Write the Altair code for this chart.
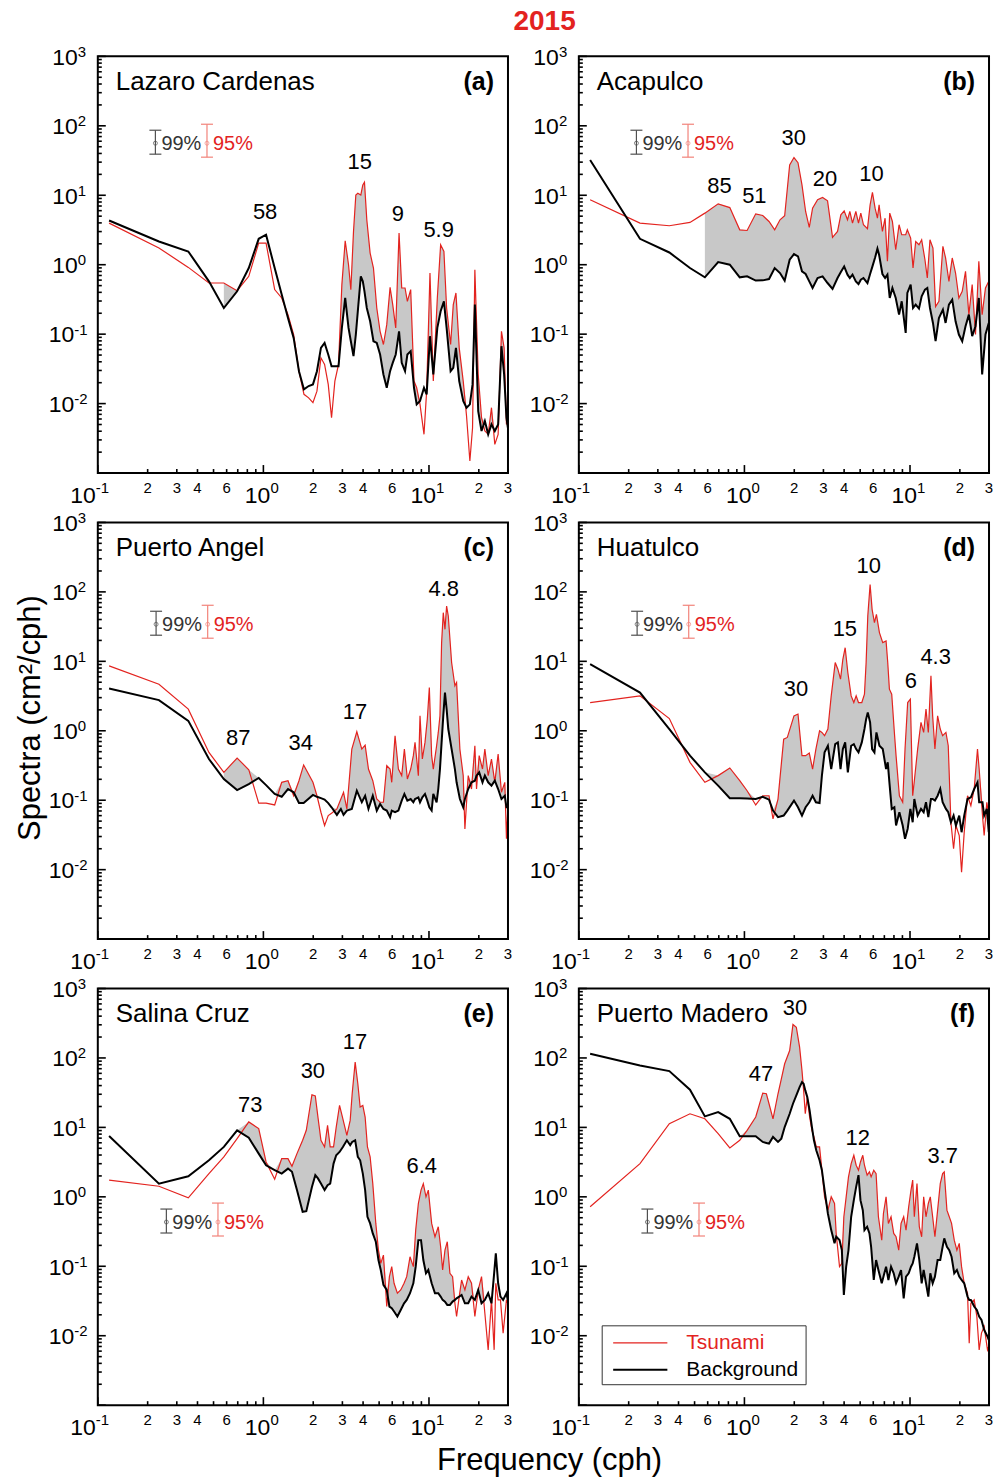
import altair as alt
import pandas as pd

# ---------------- (a) Lazaro Cardenas ----------------
a_freq = [0.117, 0.234, 0.352, 0.469, 0.577, 0.694, 0.816, 0.937, 1.038, 1.170,
          1.290, 1.408, 1.523, 1.640, 1.758, 1.876, 1.992, 2.106, 2.226, 2.342,
          2.464, 2.580, 2.702, 2.843, 2.978, 3.119, 3.267, 3.374, 3.501, 3.616,
          3.718, 3.876, 3.985, 4.078, 4.212, 4.412, 4.621, 4.839, 5.068, 5.308,
          5.559, 5.823, 6.041, 6.298, 6.596, 6.845, 7.168, 7.405, 7.755, 8.121,
          8.428, 8.828, 9.331, 9.681, 10.14, 10.62, 11.23, 11.76, 12.31, 12.78,
          13.51, 14.02, 14.55, 15.23, 16.10, 16.86, 17.66, 18.33, 18.93, 19.83,
          20.77, 21.75, 22.78, 23.85, 24.98, 26.16, 27.40, 28.43, 29.37, 29.95]
a_tsunami = [3.97, 1.74, 0.915, 0.545, 0.545, 0.423, 0.680, 2.05, 2.05, 0.438,
             0.332, 0.191, 0.0987, 0.0293, 0.0136, 0.0121, 0.0103, 0.0151, 0.0456, 0.0366,
             0.0189, 0.00626, 0.0211, 0.0366, 0.516, 2.21, 1.0, 0.438, 3.01, 10.1,
             10.7, 10.1, 14.1, 15.4, 4.43, 1.47, 0.895, 0.238, 0.110, 0.0709,
             0.137, 0.472, 0.266, 0.123, 2.85, 0.462, 0.462, 0.297, 0.438, 0.0211,
             0.0169, 0.00975, 0.00361, 0.0151, 0.759, 0.0211, 0.332, 1.94, 1.55, 0.238,
             0.0709, 0.266, 0.392, 0.0635, 0.0211, 0.00662, 0.00149, 0.0045, 0.848, 0.0263,
             0.00626, 0.00403, 0.00361, 0.00873, 0.00259, 0.00361, 0.110, 0.0635, 0.00502, 0.00626]
a_background = [4.33, 2.16, 1.55, 0.576, 0.238, 0.414, 0.895, 2.36, 2.70, 0.895,
                0.371, 0.171, 0.0884, 0.0293, 0.0160, 0.0179, 0.0189, 0.0293, 0.0635, 0.0749,
                0.0509, 0.0346, 0.0346, 0.0346, 0.123, 0.332, 0.123, 0.0791, 0.0482, 0.0987,
                0.214, 0.680, 0.576, 0.414, 0.238, 0.153, 0.0791, 0.0749, 0.0509, 0.0263,
                0.0169, 0.0293, 0.0386, 0.0509, 0.110, 0.0386, 0.0293, 0.0509, 0.0569, 0.0169,
                0.00975, 0.0109, 0.0169, 0.0136, 0.0934, 0.0263, 0.123, 0.214, 0.297, 0.123,
                0.0293, 0.0328, 0.0635, 0.0211, 0.0109, 0.00873, 0.00975, 0.0189, 0.266, 0.00781,
                0.00403, 0.00561, 0.00361, 0.00502, 0.00403, 0.00502, 0.0671, 0.0263, 0.00626, 0.0045]
a_peak_text = ["58", "15", "9", "5.9"]
a_peak_freq = [1.024, 3.82, 6.48, 11.44]
a_peak_spec = [5.70, 30.5, 5.33, 3.18]

# ---------------- (b) Acapulco ----------------
b_freq = [0.117, 0.234, 0.352, 0.469, 0.577, 0.694, 0.816, 0.937, 1.038, 1.170,
          1.290, 1.408, 1.523, 1.640, 1.750, 1.876, 1.992, 2.106, 2.226, 2.342,
          2.464, 2.580, 2.766, 2.965, 3.177, 3.405, 3.650, 3.822, 4.003, 4.192,
          4.331, 4.495, 4.708, 4.885, 5.045, 5.235, 5.534, 5.741, 5.931, 6.155,
          6.357, 6.506, 6.813, 7.071, 7.304, 7.544, 7.828, 8.199, 8.587, 8.911,
          9.417, 9.637, 10.09, 10.43, 10.82, 11.33, 11.76, 12.31, 12.72, 13.20,
          13.76, 14.27, 14.95, 15.80, 16.40, 17.18, 17.99, 18.84, 19.73, 20.67,
          21.64, 22.67, 23.74, 24.86, 26.04, 27.27, 28.56, 29.9]
b_tsunami = [8.6, 3.97, 3.64, 4.06, 5.53, 7.52, 6.65, 3.18, 3.11, 5.40,
             5.12, 4.19, 3.18, 4.43, 5.06, 27.3, 34.9, 29.5, 14.1, 5.84,
             3.44, 6.52, 8.6, 9.28, 8.31, 2.47, 3.01, 5.23, 5.97, 4.43,
             5.84, 3.97, 5.84, 3.97, 5.53, 3.76, 3.29, 7.28, 11.0, 6.52,
             4.68, 7.28, 3.01, 4.68, 1.12, 5.53, 4.19, 1.64, 3.76, 2.70,
             2.70, 3.18, 2.42, 0.895, 2.16, 1.94, 2.29, 1.18, 0.643, 2.29,
             1.74, 0.25, 0.297, 1.84, 1.25, 0.576, 1.25, 0.759, 0.332, 0.414,
             0.802, 0.191, 0.516, 0.0987, 1.12, 0.191, 0.462, 0.576]
b_background = [32.1, 2.36, 1.50, 0.895, 0.658, 1.09, 1.0, 0.658, 0.68, 0.59,
                0.595, 0.622, 0.895, 0.759, 0.59, 1.18, 1.42, 1.32, 0.802, 0.734,
                0.576, 0.462, 0.643, 0.68, 0.545, 0.447, 0.643, 0.785, 0.946, 0.719,
                0.643, 0.719, 0.576, 0.527, 0.609, 0.643, 0.545, 0.734, 0.946, 1.27,
                1.70, 1.39, 0.734, 0.643, 0.719, 0.332, 0.462, 0.332, 0.191, 0.297,
                0.104, 0.392, 0.516, 0.238, 0.266, 0.233, 0.351, 0.438, 0.462, 0.238,
                0.145, 0.0791, 0.171, 0.226, 0.145, 0.266, 0.314, 0.153, 0.0987, 0.0791,
                0.13, 0.191, 0.0934, 0.13, 0.332, 0.0263, 0.0987, 0.145]
b_peak_text = ["85", "51", "30", "20", "10"]
b_peak_freq = [0.707, 1.148, 1.985, 3.063, 5.855]
b_peak_spec = [13.8, 9.9, 67.5, 17.2, 20.0]

# ---------------- (c) Puerto Angel ----------------
c_freq = [0.117, 0.234, 0.352, 0.469, 0.577, 0.694, 0.816, 0.937, 1.038, 1.170,
          1.290, 1.408, 1.523, 1.640, 1.750, 1.992, 2.106, 2.226, 2.342, 2.464,
          2.580, 2.779, 2.937, 3.048, 3.192, 3.420, 3.667, 3.930, 4.116, 4.311,
          4.578, 4.839, 5.068, 5.308, 5.559, 5.823, 5.958, 6.240, 6.536, 6.845,
          7.104, 7.405, 7.755, 8.046, 8.237, 8.627, 8.828, 9.119, 9.461, 9.772,
          10.05, 10.38, 10.62, 11.12, 11.38, 11.65, 11.92, 12.20, 12.49, 12.78,
          13.08, 13.70, 14.34, 14.68, 15.37, 16.10, 16.48, 17.26, 18.07, 18.93,
          19.37, 20.10, 21.05, 21.75, 22.78, 23.85, 24.98, 26.16, 27.40, 28.70,
          29.37, 29.9]
c_tsunami = [8.6, 4.68, 2.05, 0.488, 0.252, 0.405, 0.275, 0.091, 0.091, 0.0855,
             0.181, 0.191, 0.116, 0.191, 0.322, 0.181, 0.116, 0.0671, 0.0432, 0.0601,
             0.0648, 0.0749, 0.104, 0.130, 0.0749, 0.545, 0.967, 0.545, 0.622, 0.281,
             0.191, 0.104, 0.0934, 0.0934, 0.314, 0.281, 0.181, 0.848, 0.281, 0.226,
             0.545, 0.202, 0.281, 0.438, 0.68, 0.226, 1.64, 0.392, 0.68, 1.47,
             4.19, 0.438, 0.281, 0.609, 0.946, 1.64, 18.6, 50.2, 28.9, 62.5,
             45.0, 9.6, 4.43, 4.95, 0.545, 0.226, 0.0386, 0.226, 0.145, 0.609,
             0.145, 0.438, 0.281, 0.545, 0.226, 0.392, 0.181, 0.462, 0.130, 0.181,
             0.0278, 0.0709]
c_background = [4.06, 2.76, 1.39, 0.392, 0.202, 0.140, 0.171, 0.209, 0.165, 0.123,
                0.112, 0.145, 0.130, 0.091, 0.091, 0.119, 0.112, 0.107, 0.102, 0.091,
                0.0791, 0.0615, 0.0749, 0.0615, 0.0709, 0.0749, 0.137, 0.0934, 0.116, 0.0749,
                0.116, 0.0709, 0.0884, 0.0749, 0.0709, 0.0569, 0.0709, 0.0671, 0.0709, 0.0987,
                0.123, 0.0987, 0.104, 0.0934, 0.104, 0.110, 0.0934, 0.110, 0.123, 0.0987,
                0.0791, 0.0709, 0.123, 0.0934, 0.145, 0.281, 0.68, 1.64, 3.55, 2.05,
                1.06, 0.545, 0.281, 0.181, 0.104, 0.0791, 0.104, 0.145, 0.181, 0.191,
                0.226, 0.252, 0.181, 0.226, 0.181, 0.162, 0.191, 0.145, 0.104, 0.116,
                0.0791, 0.0791]
c_peak_text = ["87", "34", "17", "4.8"]
c_peak_freq = [0.704, 1.68, 3.57, 12.27]
c_peak_spec = [0.79, 0.672, 1.87, 110.0]

# ---------------- (d) Huatulco ----------------
d_freq = [0.117, 0.234, 0.352, 0.469, 0.577, 0.694, 0.816, 0.937, 1.038, 1.170,
          1.290, 1.408, 1.488, 1.595, 1.726, 1.816, 1.992, 2.106, 2.226, 2.342,
          2.464, 2.580, 2.702, 2.843, 2.937, 3.048, 3.192, 3.343, 3.534, 3.667,
          3.805, 3.930, 4.059, 4.212, 4.412, 4.578, 4.729, 4.885, 5.115, 5.308,
          5.432, 5.559, 5.741, 5.903, 6.098, 6.269, 6.536, 6.845, 7.168, 7.337,
          7.508, 7.755, 8.046, 8.237, 8.627, 9.034, 9.331, 9.681, 10.05, 10.38,
          10.62, 11.12, 11.65, 12.09, 12.49, 12.90, 13.38, 13.70, 14.14, 14.68,
          15.23, 15.74, 16.48, 17.02, 17.66, 18.33, 18.93, 19.83, 20.48, 21.25,
          22.25, 23.31, 24.41, 25.56, 26.16, 27.40, 28.04, 29.10, 29.9]
d_tsunami = [2.55, 3.18, 1.50, 0.351, 0.181, 0.226, 0.291, 0.191, 0.137, 0.0855,
             0.116, 0.116, 0.054, 0.104, 0.759, 0.802, 1.64, 1.74, 0.438, 0.438,
             0.477, 0.281, 0.545, 1.0, 0.946, 0.848, 1.06, 3.18, 9.6, 7.7,
             5.53, 10.7, 15.7, 6.9, 3.18, 2.55, 3.18, 2.55, 2.55, 3.36,
             9.6, 44.9, 128.0, 56.0, 36.0, 47.4, 25.9, 18.6, 19.6, 9.6,
             3.97, 3.36, 0.946, 0.438, 0.116, 0.0934, 0.545, 2.55, 2.85, 0.116,
             0.191, 0.545, 1.32, 0.946, 2.05, 0.946, 6.17, 1.64, 0.545, 1.64,
             1.06, 0.848, 0.946, 0.609, 0.0482, 0.020, 0.0432, 0.031, 0.00922, 0.0346,
             0.116, 0.0836, 0.145, 0.545, 0.281, 0.0601, 0.031, 0.0934, 0.0601]
d_background = [9.08, 3.55, 1.06, 0.438, 0.252, 0.162, 0.107, 0.107, 0.106, 0.104,
                0.112, 0.102, 0.0709, 0.0569, 0.0601, 0.0709, 0.0987, 0.0791, 0.0601, 0.0791,
                0.0934, 0.116, 0.0934, 0.091, 0.226, 0.488, 0.609, 0.281, 0.643, 0.68,
                0.281, 0.545, 0.68, 0.252, 0.609, 0.643, 0.545, 0.488, 0.68, 1.06,
                1.47, 1.84, 1.32, 0.545, 0.488, 0.946, 0.609, 0.545, 0.281, 0.351,
                0.181, 0.0749, 0.0791, 0.0432, 0.0671, 0.0432, 0.0278, 0.0386, 0.0749, 0.0482,
                0.104, 0.0601, 0.0749, 0.0671, 0.0934, 0.0569, 0.104, 0.104, 0.0987, 0.116,
                0.145, 0.0934, 0.0749, 0.0671, 0.0482, 0.0601, 0.0432, 0.0601, 0.0346, 0.0601,
                0.104, 0.110, 0.145, 0.181, 0.0934, 0.0934, 0.0601, 0.0749, 0.0346]
d_peak_text = ["30", "15", "10", "6", "4.3"]
d_peak_freq = [2.05, 4.04, 5.64, 10.1, 14.28]
d_peak_spec = [4.01, 29.2, 235.0, 5.23, 11.6]

# ---------------- (e) Salina Cruz ----------------
e_freq = [0.117, 0.234, 0.352, 0.469, 0.577, 0.694, 0.816, 0.937, 1.038, 1.170,
          1.290, 1.408, 1.488, 1.595, 1.726, 1.816, 1.964, 2.058, 2.135, 2.226,
          2.342, 2.441, 2.532, 2.653, 2.753, 2.884, 3.020, 3.192, 3.343, 3.437,
          3.583, 3.718, 3.840, 3.985, 4.116, 4.251, 4.412, 4.578, 4.774, 4.953,
          5.115, 5.308, 5.559, 5.768, 5.958, 6.155, 6.444, 6.750, 7.071, 7.337,
          7.682, 8.046, 8.314, 8.627, 8.952, 9.245, 9.593, 9.908, 10.38, 10.87,
          11.38, 11.76, 12.09, 12.49, 12.90, 13.38, 13.89, 14.34, 14.68, 15.23,
          15.74, 16.48, 17.26, 18.07, 18.93, 19.83, 20.77, 21.75, 22.78, 23.85,
          24.75, 25.33, 26.16, 27.02, 28.04, 29.37, 29.9]
e_tsunami = [1.74, 1.42, 0.967, 2.16, 3.76, 6.89, 12.0, 9.6, 3.18, 1.79,
             3.55, 3.55, 2.76, 4.19, 6.52, 9.08, 29.5, 28.3, 14.1, 6.52,
             5.23, 10.7, 5.23, 5.23, 10.1, 20.7, 13.3, 7.7, 12.6, 30.5,
             87.1, 42.5, 19.6, 20.7, 14.1, 5.23, 3.76, 1.55, 0.414, 0.171,
             0.110, 0.145, 0.0263, 0.0709, 0.0987, 0.0569, 0.0409, 0.0456, 0.0569, 0.0709,
             0.137, 0.0987, 0.332, 0.802, 1.25, 1.55, 1.0, 1.25, 0.414, 0.266,
             0.371, 0.191, 0.0884, 0.171, 0.226, 0.0791, 0.0709, 0.0293, 0.0189, 0.0366,
             0.0635, 0.0456, 0.0709, 0.0569, 0.0189, 0.0456, 0.0709, 0.0211, 0.00626, 0.0328,
             0.00626, 0.0569, 0.0328, 0.0328, 0.0109, 0.0328, 0.0293]
e_background = [7.52, 1.55, 1.98, 3.36, 5.23, 9.08, 7.12, 4.19, 2.85, 2.42,
                2.16, 2.55, 2.29, 1.25, 0.609, 0.622, 1.39, 2.05, 1.84, 1.55,
                1.25, 1.47, 1.55, 3.01, 3.97, 4.43, 5.23, 6.52, 5.53, 6.17,
                6.52, 3.76, 3.36, 2.16, 1.25, 0.516, 0.414, 0.297, 0.226, 0.123,
                0.0884, 0.054, 0.0456, 0.0263, 0.0249, 0.0223, 0.0189, 0.0235, 0.0293, 0.0328,
                0.0409, 0.0569, 0.0987, 0.238, 0.238, 0.123, 0.0791, 0.0884, 0.0569, 0.0409,
                0.0409, 0.0366, 0.0328, 0.031, 0.0278, 0.0278, 0.031, 0.0328, 0.0346, 0.0366,
                0.0386, 0.0293, 0.0293, 0.0366, 0.0328, 0.0456, 0.0293, 0.0328, 0.0409, 0.0293,
                0.0791, 0.153, 0.0569, 0.0366, 0.0328, 0.0409, 0.0328]
e_peak_text = ["73", "30", "17", "6.4"]
e_peak_freq = [0.832, 1.99, 3.57, 9.04]
e_peak_spec = [21.2, 65.3, 171.0, 2.81]

# ---------------- (f) Puerto Madero ----------------
f_freq = [0.117, 0.234, 0.352, 0.469, 0.577, 0.694, 0.816, 0.937, 1.038, 1.170,
          1.290, 1.357, 1.408, 1.488, 1.595, 1.671, 1.750, 1.876, 1.964, 2.058,
          2.154, 2.226, 2.278, 2.331, 2.397, 2.476, 2.557, 2.629, 2.715, 2.843,
          2.937, 3.048, 3.192, 3.343, 3.501, 3.583, 3.752, 3.876, 3.985, 4.116,
          4.251, 4.412, 4.578, 4.729, 4.885, 5.021, 5.187, 5.308, 5.508, 5.689,
          5.823, 6.041, 6.240, 6.444, 6.750, 6.910, 7.168, 7.405, 7.682, 7.972,
          8.237, 8.547, 8.828, 9.159, 9.461, 9.817, 10.14, 10.38, 10.62, 11.02,
          11.38, 11.76, 12.09, 12.49, 12.90, 13.26, 13.70, 14.14, 14.68, 15.23,
          15.74, 16.10, 16.71, 17.26, 17.82, 18.50, 19.19, 19.83, 20.48, 21.25,
          22.25, 22.78, 23.31, 24.41, 25.33, 26.16, 27.02, 28.04, 29.37, 29.9]
f_tsunami = [0.719, 3.01, 11.3, 15.7, 13.3, 8.13, 5.06, 6.52, 9.08, 14.1,
             31.2, 30.5, 21.9, 13.3, 30.5, 50.1, 82.4, 128.0, 303.0, 277.0,
             143.0, 66.1, 34.1, 15.7, 27.3, 14.1, 9.08, 7.28, 5.23, 5.23,
             2.42, 1.0, 0.643, 1.0, 0.802, 0.297, 0.0987, 0.110, 0.516, 1.0,
             1.94, 3.01, 3.97, 2.85, 2.42, 3.18, 3.97, 2.85, 2.05, 2.29,
             1.94, 2.42, 2.16, 0.516, 0.238, 0.576, 1.0, 0.414, 0.516, 0.297,
             0.266, 0.171, 0.414, 0.516, 0.332, 0.719, 1.25, 1.74, 0.516, 1.55,
             0.371, 0.266, 1.0, 0.516, 0.802, 1.0, 0.516, 0.266, 0.643, 1.55,
             2.16, 2.29, 0.643, 0.516, 0.414, 0.238, 0.171, 0.214, 0.0987, 0.0569,
             0.0409, 0.00781, 0.0293, 0.0328, 0.0189, 0.00626, 0.0109, 0.0136, 0.00626, 0.0070]
f_background = [114.6, 78.0, 64.6, 34.9, 14.4, 16.6, 13.3, 7.44, 7.44, 7.44,
                6.17, 5.97, 5.84, 7.28, 6.17, 6.89, 10.1, 15.7, 21.9, 28.9,
                38.0, 44.9, 42.5, 34.1, 27.3, 17.6, 10.1, 6.52, 4.68, 3.36,
                2.42, 1.25, 0.576, 0.332, 0.214, 0.266, 0.238, 0.171, 0.0386, 0.0987,
                0.171, 0.516, 0.895, 1.39, 2.05, 0.895, 0.643, 0.332, 0.371, 0.297,
                0.191, 0.0635, 0.123, 0.0884, 0.0569, 0.0709, 0.0987, 0.0635, 0.0987, 0.0791,
                0.0569, 0.0709, 0.0884, 0.0346, 0.0709, 0.0791, 0.0987, 0.110, 0.137, 0.214,
                0.123, 0.0569, 0.0884, 0.0569, 0.0366, 0.0791, 0.0569, 0.0709, 0.123, 0.123,
                0.191, 0.252, 0.191, 0.171, 0.137, 0.0791, 0.0884, 0.0709, 0.0635, 0.0569,
                0.0366, 0.0328, 0.0328, 0.0263, 0.0235, 0.0189, 0.0169, 0.0121, 0.00975, 0.00873]
f_peak_text = ["30", "47", "12", "3.7"]
f_peak_freq = [2.02, 1.26, 4.84, 15.74]
f_peak_spec = [528.0, 58.9, 7.08, 3.92]

station_names = ["Lazaro Cardenas", "Acapulco", "Puerto Angel", "Huatulco", "Salina Cruz", "Puerto Madero"]
panel_letters = ["(a)", "(b)", "(c)", "(d)", "(e)", "(f)"]
series_names = ["Tsunami", "Background"]
fill_from_freq = 0.47

# tick positions and tick labels
x_ticks_major = [0.1, 1, 10]
x_ticks_minor = [0.2, 0.3, 0.4, 0.5, 0.6, 0.7, 0.8, 0.9, 2, 3, 4, 5, 6, 7, 8, 9, 20, 30]
y_ticks_major = [0.001, 0.01, 0.1, 1, 10, 100, 1000]
y_ticks_minor = [m * 10.0 ** e for e in range(-3, 3) for m in range(2, 10)]
x_major_label_value = [0.1, 1, 10]
x_major_label_exp = ["-1", "0", "1"]
x_minor_label_value = [0.2, 0.3, 0.4, 0.6, 2, 3, 4, 6, 20, 30]
x_minor_label_text = ["2", "3", "4", "6", "2", "3", "4", "6", "2", "3"]
y_major_label_value = [0.01, 0.1, 1, 10, 100, 1000]
y_major_label_exp = ["-2", "-1", "0", "1", "2", "3"]

# ---------------- styling ----------------
W = 411
H = 417.5
RED = "#e3231f"
GREY_FILL = "#c8c8c8"
FONT = "Liberation Sans"

one = pd.DataFrame({"k": [0]})


def text_at(text, x, y, size, color="black", align="left", baseline="middle", weight="normal", angle=0):
    return alt.Chart(one).mark_text(
        text=text, fontSize=size, font=FONT, color=color, align=align,
        baseline=baseline, fontWeight=weight, angle=angle
    ).encode(x=alt.value(x), y=alt.value(y))


def hrule(x1, x2, y, color, width):
    return alt.Chart(one).mark_rule(color=color, strokeWidth=width).encode(
        x=alt.value(x1), x2=alt.value(x2), y=alt.value(y))


def vrule(x, y1, y2, color, width):
    return alt.Chart(one).mark_rule(color=color, strokeWidth=width).encode(
        x=alt.value(x), y=alt.value(y1), y2=alt.value(y2))


def ci_layers(gx, cy):
    rx = gx + 51.7
    g = "#505050"
    r = "#f2837a"
    dot = lambda x, c: alt.Chart(one).mark_point(shape="circle", size=16, color=c, strokeWidth=1).encode(
        x=alt.value(x), y=alt.value(cy))
    return [
        vrule(gx, cy - 13, cy + 11, g, 1.2), hrule(gx - 6, gx + 6, cy - 13, g, 1.2),
        hrule(gx - 6, gx + 6, cy + 11, g, 1.2), dot(gx, g),
        vrule(rx, cy - 19, cy + 14, r, 1.2), hrule(rx - 6, rx + 6, cy - 19, r, 1.2),
        hrule(rx - 6, rx + 6, cy + 14, r, 1.2), dot(rx, r),
        text_at("99%", gx + 6, cy + 1, 20, color="#333333"),
        text_at("95%", rx + 6, cy + 1, 20, color=RED),
    ]


def tick_label_layers(xs, ys):
    txt = dict(font=FONT, color="black", baseline="alphabetic")
    xmaj = alt.Chart(pd.DataFrame({"v": x_major_label_value, "e": x_major_label_exp}))
    xmin = alt.Chart(pd.DataFrame({"v": x_minor_label_value, "t": x_minor_label_text}))
    ymaj = alt.Chart(pd.DataFrame({"v": y_major_label_value, "e": y_major_label_exp}))
    xenc = alt.X("v:Q", scale=xs, axis=None)
    yenc = alt.Y("v:Q", scale=ys, axis=None)
    layers = []
    for cond, dx in ((alt.datum.v < 0.5, -2), (alt.datum.v > 0.5, 7)):
        layers.append(xmaj.transform_filter(cond).mark_text(text="10", fontSize=23, align="right", dx=dx, **txt)
                      .encode(x=xenc, y=alt.value(H + 29.7)))
        layers.append(xmaj.transform_filter(cond).mark_text(fontSize=15, align="left", dx=dx, **txt)
                      .encode(x=xenc, y=alt.value(H + 19.7), text="e:N"))
    layers.append(xmin.mark_text(fontSize=15, align="center", **txt)
                  .encode(x=xenc, y=alt.value(H + 20.2), text="t:N"))
    for cond, ax in ((alt.datum.v < 0.5, -23.5), (alt.datum.v > 0.5, -20)):
        layers.append(ymaj.transform_filter(cond).mark_text(text="10", fontSize=23, align="right", dy=8.3, **txt)
                      .encode(x=alt.value(ax), y=yenc))
        layers.append(ymaj.transform_filter(cond).mark_text(fontSize=15, align="left", dy=0.5, **txt)
                      .encode(x=alt.value(ax), y=yenc, text="e:N"))
    return layers


def panel(freq, tsunami, background, idx, peak_text, peak_freq, peak_spec, ci_x, ci_y, extra=()):
    xs = alt.Scale(type="log", domain=[0.1, 30], nice=False)
    ys = alt.Scale(type="log", domain=[0.001, 1000], nice=False)
    df = pd.DataFrame({"f": freq, "ts": tsunami, "bg": background})
    base = alt.Chart(df)
    fill = (base.transform_filter(alt.datum.f >= fill_from_freq)
            .transform_calculate(top="max(datum.ts, datum.bg)")
            .mark_area(color=GREY_FILL, opacity=1)
            .encode(x=alt.X("f:Q", scale=xs, axis=None),
                    y=alt.Y("bg:Q", scale=ys, axis=None),
                    y2=alt.Y2("top:Q")))
    red = base.mark_line(color=RED, strokeWidth=1.2).encode(
        x=alt.X("f:Q", scale=xs, axis=None), y=alt.Y("ts:Q", scale=ys, axis=None))
    black = base.mark_line(color="black", strokeWidth=2).encode(
        x=alt.X("f:Q", scale=xs, axis=None), y=alt.Y("bg:Q", scale=ys, axis=None))

    def xtick(vals, length):
        return alt.Chart(pd.DataFrame({"v": vals})).mark_rule(color="black", strokeWidth=1.6).encode(
            x=alt.X("v:Q", scale=xs, axis=None), y=alt.value(H), y2=alt.value(H - length))

    def ytick(vals, length):
        return alt.Chart(pd.DataFrame({"v": vals})).mark_rule(color="black", strokeWidth=1.6).encode(
            y=alt.Y("v:Q", scale=ys, axis=None), x=alt.value(0), x2=alt.value(length))

    frame = alt.Chart(one).mark_rect(fillOpacity=0, stroke="black", strokeWidth=2).encode(
        x=alt.value(0), x2=alt.value(W), y=alt.value(0), y2=alt.value(H))
    peaks = alt.Chart(pd.DataFrame({"t": peak_text, "f": peak_freq, "s": peak_spec})).mark_text(
        fontSize=22, font=FONT, color="black", align="center", baseline="middle").encode(
        x=alt.X("f:Q", scale=xs, axis=None), y=alt.Y("s:Q", scale=ys, axis=None), text="t:N")
    layers = [fill, red, black,
              xtick(x_ticks_major, 8), xtick(x_ticks_minor, 4),
              ytick(y_ticks_major, 8), ytick(y_ticks_minor, 4),
              frame,
              text_at(station_names[idx], 18, 34, 26, baseline="alphabetic"),
              text_at(panel_letters[idx], W - 14, 34, 25, align="right", baseline="alphabetic", weight="bold"),
              peaks] + tick_label_layers(xs, ys) + ci_layers(ci_x, ci_y) + list(extra)
    return alt.layer(*layers).properties(width=W, height=H)


title_2015 = [text_at("2015", 447.7, -34.5, 28, color=RED, align="center", weight="bold")]
y_title = [text_at("Spectra  (cm\u00b2/cph)", -67.3, 196, 31, align="center", angle=270)]
x_title = [text_at("Frequency  (cph)", 452.7, 473.5, 31, align="center")]
legend = [
    alt.Chart(one).mark_rect(fill="white", stroke="#333333", strokeWidth=1).encode(
        x=alt.value(23.4), x2=alt.value(227.7), y=alt.value(338), y2=alt.value(397)),
    hrule(34.4, 88.7, 355, RED, 1.2),
    hrule(34.4, 88.7, 382, "black", 2),
    text_at(series_names[0], 107.7, 355, 21, color=RED),
    text_at(series_names[1], 107.7, 382, 21),
]

pa = panel(a_freq, a_tsunami, a_background, 0, a_peak_text, a_peak_freq, a_peak_spec, 57.7, 87, title_2015)
pb = panel(b_freq, b_tsunami, b_background, 1, b_peak_text, b_peak_freq, b_peak_spec, 57.7, 87)
pc = panel(c_freq, c_tsunami, c_background, 2, c_peak_text, c_peak_freq, c_peak_spec, 58.4, 102, y_title)
pd_ = panel(d_freq, d_tsunami, d_background, 3, d_peak_text, d_peak_freq, d_peak_spec, 58.4, 102)
pe = panel(e_freq, e_tsunami, e_background, 4, e_peak_text, e_peak_freq, e_peak_spec, 68.7, 234, x_title)
pf = panel(f_freq, f_tsunami, f_background, 5, f_peak_text, f_peak_freq, f_peak_spec, 68.7, 234, legend)

chart = (alt.concat(pa, pb, pc, pd_, pe, pf, columns=2,
                    spacing={"row": 49, "column": 71}, bounds="flush")
         .properties(padding={"left": 14, "top": 6, "right": 2, "bottom": 2})
         .configure(font=FONT)
         .configure_view(strokeWidth=0))

chart.save("out.html", embed_options={"renderer": "svg", "actions": False})
